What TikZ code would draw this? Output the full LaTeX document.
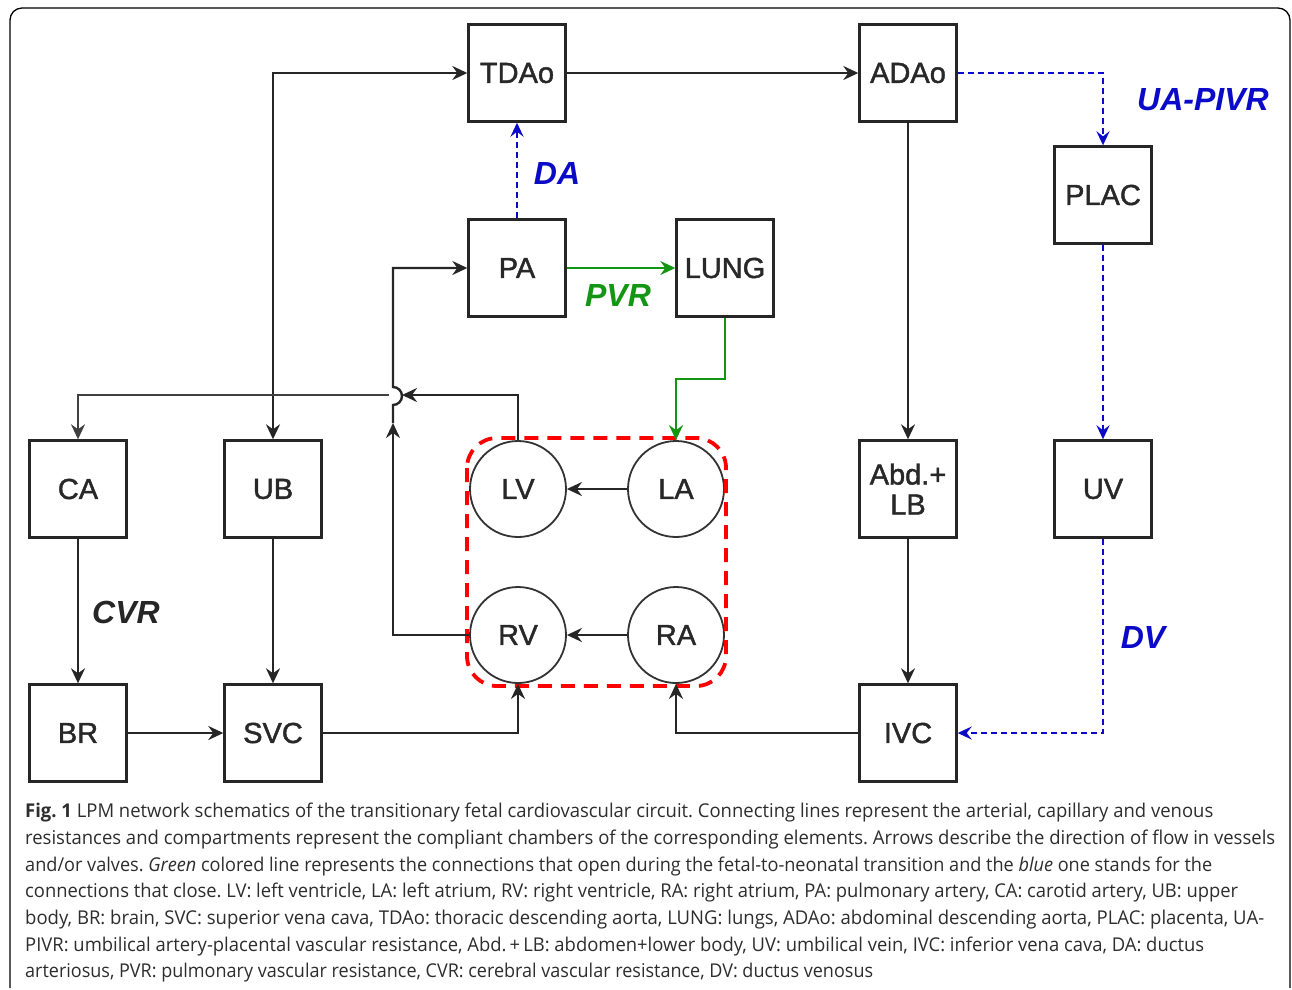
\documentclass[tikz,border=0pt]{standalone}
\usepackage{fontspec}
\setmainfont{Liberation Sans}
\newfontfamily\boxfont[FakeBold=1.5]{Liberation Sans}
\newfontfamily\capfont{Open Sans}
\usetikzlibrary{arrows.meta}
\definecolor{dablue}{RGB}{10,10,200}
\definecolor{dagreen}{RGB}{20,150,20}
\definecolor{txtgray}{RGB}{40,40,40}
\definecolor{capgray}{RGB}{45,45,45}
\tikzset{
  tip/.tip={Stealth[length=15pt,width=14pt,inset=5pt]},
  arr/.style={line width=2.4pt, draw=black!85, -tip},
  dbarr/.style={line width=2.4pt, draw=black!85, tip-tip},
  bluearr/.style={line width=2.2pt, draw=dablue, dash pattern=on 6pt off 4pt, -{Stealth[length=14pt,width=13pt,inset=5pt,fill=dablue]}},
  greenarr/.style={line width=2.2pt, draw=dagreen, -{Stealth[length=15pt,width=14pt,inset=5pt,fill=dagreen]}},
  compbox/.style={draw=black!85, line width=2.4pt, minimum width=97pt, minimum height=97pt, inner sep=0pt, font=\boxfont\fontsize{29}{32}\selectfont, text=txtgray, align=center},
  chamber/.style={circle, draw=black!80, line width=1.8pt, minimum size=96pt, inner sep=0pt, font=\boxfont\fontsize{29}{32}\selectfont, text=txtgray},
  lbl/.style={font=\fontsize{32}{34}\selectfont\bfseries\itshape, inner sep=0pt},
  capline/.style={anchor=base west, inner sep=0pt, font=\capfont\fontsize{19}{22}\selectfont\frenchspacing, text=capgray}
}
\begin{document}
\begin{tikzpicture}[x=1pt,y=-1pt]
\useasboundingbox (0,0) rectangle (1292,989);
% frame
\draw[line width=1.3pt, rounded corners=12pt] (10,988) -- (10,8) -- (1290,8) -- (1290,988);

% compartments
\node[compbox] (TDAo) at (517,73) {TDAo};
\node[compbox] (ADAo) at (908,73) {ADAo};
\node[compbox] (PLAC) at (1103,195) {PLAC};
\node[compbox] (PA) at (517,268) {PA};
\node[compbox] (LUNG) at (725,268) {LUNG};
\node[compbox] (CA) at (78,489) {CA};
\node[compbox] (UB) at (273,489) {UB};
\node[compbox] (AbdLB) at (908,489) {Abd.+\\[-2pt]LB};
\node[compbox] (UV) at (1103,489) {UV};
\node[compbox] (BR) at (78,733) {BR};
\node[compbox] (SVC) at (273,733) {SVC};
\node[compbox] (IVC) at (908,733) {IVC};

\node[chamber] (LV) at (518,489) {LV};
\node[chamber] (LA) at (676,489) {LA};
\node[chamber] (RV) at (518,635) {RV};
\node[chamber] (RA) at (676,635) {RA};

% heart outline
\draw[red, line width=3.8pt, dash pattern=on 14pt off 9pt, rounded corners=30pt] (467,438) rectangle (726,686);

% jump coordinates
\coordinate (jb) at (393,423);
\coordinate (jlow) at (393,405);
\coordinate (jup) at (393,387);
\coordinate (jr) at (402,395);
\coordinate (jl) at (389,395);

% connectors
\draw[arr] (TDAo.east) -- (ADAo.west);
\draw[dbarr] (UB.north) |- (TDAo.west);
\draw[arr] (ADAo.south) -- (AbdLB.north);
\draw[arr] (AbdLB.south) -- (IVC.north);
\draw[arr] (CA.south) -- (BR.north);
\draw[arr] (UB.south) -- (SVC.north);
\draw[arr] (BR.east) -- (SVC.west);
\draw[arr] (SVC.east) -| (RV.south);
\draw[arr] (IVC.west) -| (RA.south);
\draw[arr] (LA.west) -- (LV.east);
\draw[arr] (RA.west) -- (RV.east);
\draw[arr] (LV.north) |- (jr);
\draw[arr, draw=black!75] (jl) -| (CA.north);
\draw[arr] (RV.west) -| (jb);
\draw[arr] (jb) -- (jlow) arc[start angle=90, end angle=-90, radius=9] -- (jup) |- (PA.west);

\draw[bluearr] (PA.north) -- (TDAo.south);
\draw[bluearr] (ADAo.east) -| (PLAC.north);
\draw[bluearr] (PLAC.south) -- (UV.north);
\draw[bluearr] (UV.south) |- (IVC.east);

\draw[greenarr] (PA.east) -- (LUNG.west);
\draw[greenarr] (LUNG.south) -- ++(0,61) -| (LA.north);

% labels
\node[lbl, text=dablue] (lDA) at (557,173) {DA};
\node[lbl, text=dablue] (lUA) at (1203,100) {UA-PIVR};
\node[lbl, text=dablue] (lDV) at (1143,637) {DV};
\node[lbl, text=dagreen] (lPVR) at (618,295) {PVR};
\node[lbl, text=black!85] (lCVR) at (126,612) {CVR};

% caption
\node[capline] (c1) at (25,817) {\resizebox{1188pt}{\height}{\textbf{Fig. 1} LPM network schematics of the transitionary fetal cardiovascular circuit. Connecting lines represent the arterial, capillary and venous}};
\node[capline] (c2) at (25,844) {\resizebox{1250pt}{\height}{resistances and compartments represent the compliant chambers of the corresponding elements. Arrows describe the direction of flow in vessels}};
\node[capline] (c3) at (25,871) {\resizebox{1187pt}{\height}{and/or valves. \textit{Green} colored line represents the connections that open during the fetal-to-neonatal transition and the \textit{blue} one stands for the}};
\node[capline] (c4) at (25,897) {\resizebox{1213pt}{\height}{connections that close. LV: left ventricle, LA: left atrium, RV: right ventricle, RA: right atrium, PA: pulmonary artery, CA: carotid artery, UB: upper}};
\node[capline] (c5) at (25,924) {\resizebox{1239pt}{\height}{body, BR: brain, SVC: superior vena cava, TDAo: thoracic descending aorta, LUNG: lungs, ADAo: abdominal descending aorta, PLAC: placenta, UA-}};
\node[capline] (c6) at (25,951) {\resizebox{1179pt}{\height}{PIVR: umbilical artery-placental vascular resistance, Abd.\,+\,LB: abdomen+lower body, UV: umbilical vein, IVC: inferior vena cava, DA: ductus}};
\node[capline] (c7) at (25,977) {\resizebox{848pt}{\height}{arteriosus, PVR: pulmonary vascular resistance, CVR: cerebral vascular resistance, DV: ductus venosus}};
\end{tikzpicture}
\end{document}
